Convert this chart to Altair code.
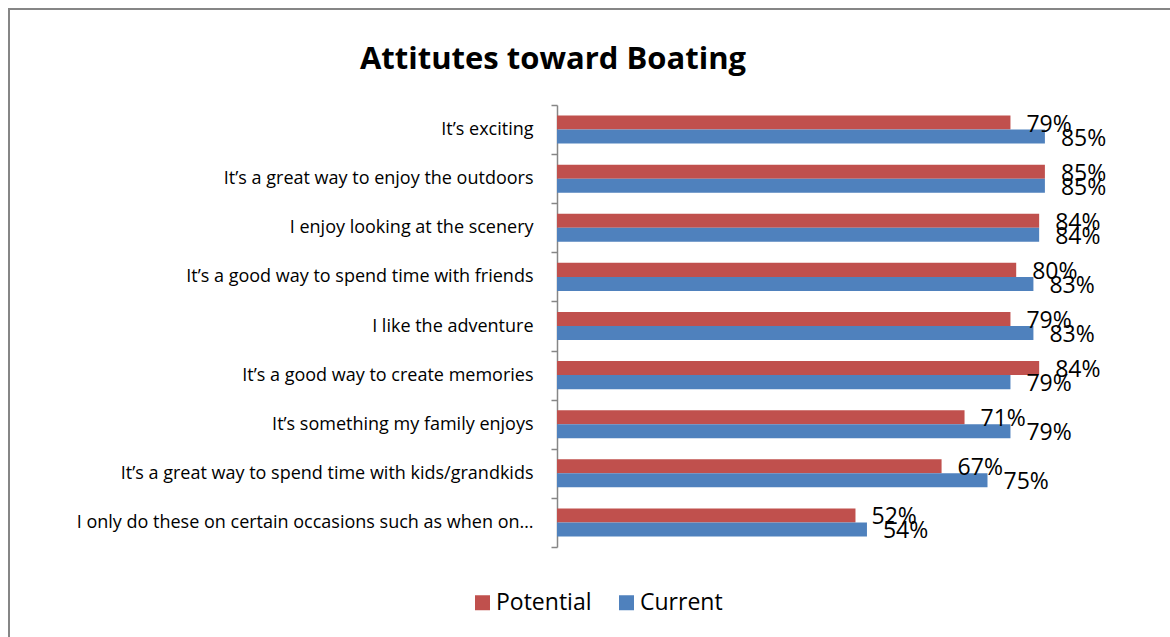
import altair as alt
import pandas as pd

categories = [
    "It\u2019s exciting",
    "It\u2019s a great way to enjoy the outdoors",
    "I enjoy looking at the scenery",
    "It\u2019s a good way to spend time with friends",
    "I like the adventure",
    "It\u2019s a good way to create memories",
    "It\u2019s something my family enjoys",
    "It\u2019s a great way to spend time with kids/grandkids",
    "I only do these on certain occasions such as when on\u2026",
]
potential = [79, 85, 84, 80, 79, 84, 71, 67, 52]
current = [85, 85, 84, 83, 83, 79, 79, 75, 54]
series = ["Potential", "Current"]
colors = ["#C0504D", "#4F81BD"]
title_text = "Attitutes toward Boating"

rows = []
for c, p, k in zip(categories, potential, current):
    rows.append({"cat": c, "series": "Potential", "value": p, "label": f"{p}%"})
    rows.append({"cat": c, "series": "Current", "value": k, "label": f"{k}%"})
df = pd.DataFrame(rows)

FONT = "Open Sans"

y_enc = alt.Y("cat:N", sort=categories, title=None,
              scale=alt.Scale(paddingInner=0, paddingOuter=0),
              axis=alt.Axis(domainColor="#868686", domainWidth=1.5,
                            tickColor="#868686", tickWidth=1.5, tickSize=6,
                            tickBand="extent", labelPadding=18, labelLimit=0,
                            labelFont=FONT, labelFontSize=18, labelColor="#000000",
                            grid=False))
yoff = alt.YOffset("series:N", sort=series,
                   scale=alt.Scale(domain=series, paddingInner=0, paddingOuter=0.75))
x_enc = alt.X("value:Q", scale=alt.Scale(domain=[0, 100]), axis=None)

bars = alt.Chart(df).mark_bar().encode(
    x=x_enc, y=y_enc, yOffset=yoff,
    color=alt.Color("series:N", sort=series,
                    scale=alt.Scale(domain=series, range=colors),
                    legend=alt.Legend(title=None, orient="none", direction="horizontal",
                                      legendX=-86, legendY=486, symbolType="square",
                                      symbolSize=225, symbolStrokeWidth=0,
                                      labelFont=FONT, labelFontSize=23,
                                      labelColor="#000000", labelOffset=2,
                                      columnPadding=23)),
)

text = alt.Chart(df).mark_text(align="left", baseline="middle", dx=16, dy=2,
                               font=FONT, fontSize=23, color="#000000").encode(
    x=x_enc, y=y_enc, yOffset=yoff, text="label:N",
)

base = pd.DataFrame({"t": [title_text]})
frame = alt.Chart(base).mark_rect(
    fill=None, stroke="#868686", strokeWidth=2
).encode(x=alt.value(-548), x2=alt.value(700), y=alt.value(-96), y2=alt.value(600))

title = alt.Chart(base).mark_text(
    font=FONT, fontSize=31, fontWeight="bold", color="#000000",
    align="center", baseline="alphabetic"
).encode(x=alt.value(-4), y=alt.value(-36), text="t:N")

chart = alt.layer(frame, bars, text, title).properties(
    width=574, height=442,
    autosize=alt.AutoSizeParams(type="none"),
    padding={"left": 557, "top": 105, "right": 39, "bottom": 90},
    background="white",
).configure_view(stroke=None)

chart.save("out.html", embed_options={"renderer": "svg", "actions": False})
